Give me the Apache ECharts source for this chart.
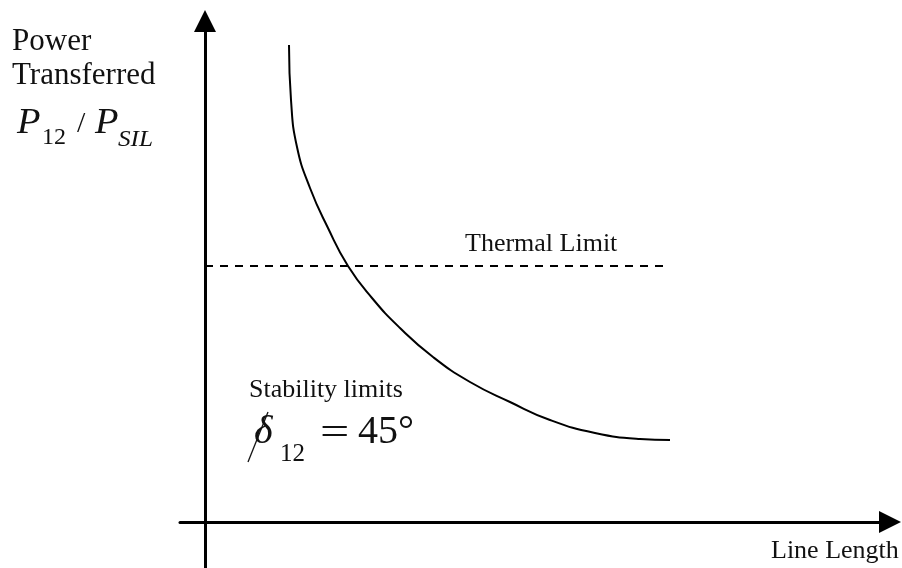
<!DOCTYPE html>
<html>
<head>
<meta charset="utf-8">
<script src="https://cdn.jsdelivr.net/npm/echarts@6/dist/echarts.min.js"></script>
<style>
  html, body { margin: 0; padding: 0; background: #fff; }
  #main { width: 902px; height: 568px; }
</style>
</head>
<body>
<div id="main"></div>
<script>
// stability limit curve (line length vs P12/PSIL)
const lineLength = [0.84, 0.86, 0.92, 1.05, 1.23, 1.43, 1.67, 1.95, 2.28, 2.65, 3.05, 3.45, 3.90, 4.35, 4.65];
const stabilityPower = [4.77, 4.22, 3.75, 3.34, 2.94, 2.56, 2.24, 1.94, 1.65, 1.40, 1.20, 1.02, 0.89, 0.83, 0.82];
// thermal limit, horizontal
const thermalLength = [0, 4.6];
const thermalLimit = 2.56;

const serif = '"Liberation Serif", "DejaVu Serif", serif';
const ink = '#111';

function txt(text, x, y, size, italic, sx) {
  return {
    type: 'text',
    x: x,
    y: y,
    scaleX: sx || 1,
    style: {
      text: text,
      font: (italic ? 'italic ' : '') + size + 'px ' + serif,
      fill: ink,
      align: 'left',
      verticalAlign: 'middle',
    },
  };
}

const chart = echarts.init(document.getElementById('main'));

let option = {
  animation: false,
  backgroundColor: '#fff',
  grid: { left: 180, right: 12, top: 21, bottom: 0, containLabel: false },
  xAxis: {
    type: 'value',
    min: -0.25,
    max: 6.85,
    axisLine: {
      onZero: true,
      symbol: ['none', 'triangle'],
      symbolSize: [22, 22],
      lineStyle: { color: '#000', width: 3 },
    },
    axisTick: { show: false },
    axisLabel: { show: false },
    splitLine: { show: false },
  },
  yAxis: {
    type: 'value',
    min: -0.46,
    max: 5.01,
    axisLine: {
      onZero: true,
      symbol: ['none', 'triangle'],
      symbolSize: [22, 22],
      lineStyle: { color: '#000', width: 3 },
    },
    axisTick: { show: false },
    axisLabel: { show: false },
    splitLine: { show: false },
  },
  series: [
    {
      type: 'line',
      smooth: 0.5,
      symbol: 'none',
      data: lineLength.map((x, i) => [x, stabilityPower[i]]),
      lineStyle: { color: '#000', width: 2 },
    },
    {
      type: 'line',
      symbol: 'none',
      data: thermalLength.map(x => [x, thermalLimit]),
      lineStyle: { color: '#000', width: 2, type: [8, 7] },
    },
  ],
  graphic: [
    txt('Power', 12, 42, 31),
    txt('Transferred', 12, 76, 31),
    txt('P', 17, 124, 35, true, 1.1),
    txt('12', 42, 138, 24),
    txt('/', 77, 124, 30),
    txt('P', 95, 124, 35, true, 1.1),
    txt('SIL', 118, 140, 24, true, 1.05),
    txt('Thermal Limit', 465, 244, 26),
    txt('Stability limits', 249, 390, 26),
    txt('δ', 254, 432, 40, true),
    txt('12', 280, 454, 25),
    txt('=', 320, 434, 40, false, 1.3),
    txt('45', 358, 432, 40),
    txt('°', 398, 432, 40),
    txt('Line Length', 771, 551, 26),
    {
      type: 'line',
      shape: { x1: 248, y1: 462, x2: 268, y2: 412 },
      style: { stroke: ink, lineWidth: 1.3 },
    },
  ],
};
chart.setOption(option);
</script>
</body>
</html>
